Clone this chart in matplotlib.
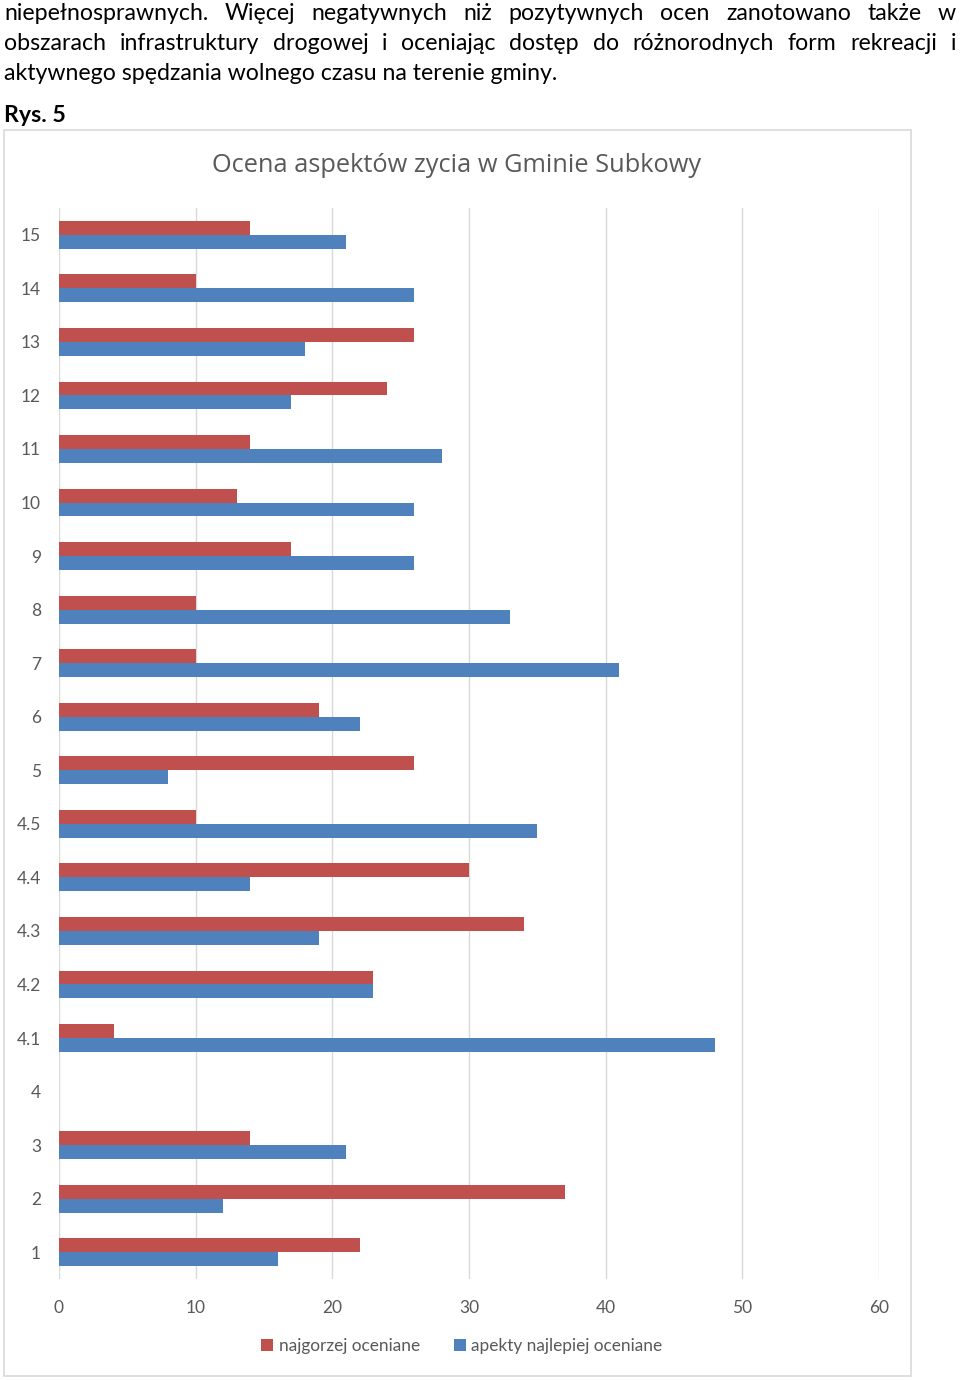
import numpy as np
import matplotlib.pyplot as plt
from matplotlib.patches import Rectangle

categories = ['1', '2', '3', '4', '4.1', '4.2', '4.3', '4.4', '4.5', '5',
              '6', '7', '8', '9', '10', '11', '12', '13', '14', '15']
worst = [22, 37, 14, 0, 4, 23, 34, 30, 10, 26,
         19, 10, 10, 17, 13, 14, 24, 26, 10, 14]
best = [16, 12, 21, 0, 48, 23, 19, 14, 35, 8,
        22, 41, 33, 26, 26, 28, 17, 18, 26, 21]

title = 'Ocena aspektów zycia w Gminie Subkowy'
legend_labels = ['najgorzej oceniane', 'apekty najlepiej oceniane']
para_lines = [
    'niepełnosprawnych. Więcej negatywnych niż pozytywnych ocen zanotowano także w',
    'obszarach infrastruktury drogowej i  oceniając dostęp do różnorodnych form rekreacji i',
    'aktywnego spędzania wolnego czasu na terenie gminy.',
]

red = '#C0504D'
blue = '#4F81BD'
gray = '#595959'
body_font = ['Lato', 'DejaVu Sans']

W, H = 960, 1381
fig = plt.figure(figsize=(W / 100, H / 100), dpi=100)

# chart frame
fig.patches.append(Rectangle((4 / W, 1 - 1376 / H), 907 / W, 1246 / H,
                             transform=fig.transFigure, fill=False,
                             ec='#d9d9d9', lw=1.2))

ax = fig.add_axes([59 / W, 1 - 1279 / H, 820 / W, 1071 / H])
y = np.arange(len(categories))
h = 0.26
ax.barh(y + h / 2, worst, h, color=red, label=legend_labels[0], zorder=3)
ax.barh(y - h / 2, best, h, color=blue, label=legend_labels[1], zorder=3)
ax.set_ylim(-0.5, len(categories) - 0.5)
ax.set_xlim(0, 60)
ax.set_xticks(np.arange(0, 61, 10))
ax.set_yticks(y)
ax.set_yticklabels(categories)
ax.grid(axis='x', color='#d9d9d9', lw=1, zorder=0)
for s in ax.spines.values():
    s.set_visible(False)
ax.tick_params(length=0, labelsize=12.5, labelcolor=gray)
ax.tick_params(axis='y', pad=13)
ax.tick_params(axis='x', pad=15)
for lab in ax.get_xticklabels() + ax.get_yticklabels():
    lab.set_family(body_font)

fig.text(457 / W, 1 - 165 / H, title, ha='center', va='center',
         fontsize=18.3, color=gray, family=['Open Sans', 'DejaVu Sans'])

fig.legend(loc='center', bbox_to_anchor=(462 / W, 1 - 1346 / H),
           ncol=2, frameon=False, handlelength=0.7, handleheight=0.7,
           handletextpad=0.3, columnspacing=2.0,
           prop={'family': body_font, 'size': 12.4}, labelcolor=gray)

# paragraph, justified lines
fig.canvas.draw()
r = fig.canvas.get_renderer()
x0, x1 = 4, 956
fs = 16.7
for i, line in enumerate(para_lines):
    yy = 1 - (14 + 30 * i) / H
    if i == len(para_lines) - 1:
        fig.text(x0 / W, yy, line, ha='left', va='center', fontsize=fs,
                 family=body_font, color='black')
        continue
    words = line.split()
    texts = [fig.text(0, yy, w_, ha='left', va='center', fontsize=fs,
                      family=body_font, color='black') for w_ in words]
    widths = [t.get_window_extent(r).width for t in texts]
    gap = (x1 - x0 - sum(widths)) / (len(words) - 1)
    x = x0
    for t, wd in zip(texts, widths):
        t.set_x(x / W)
        x += wd + gap

fig.text(4 / W, 1 - 115 / H, 'Rys. 5', ha='left', va='center', fontsize=fs,
         weight='bold', family=body_font, color='black')

fig.savefig('out.png', dpi=100)
